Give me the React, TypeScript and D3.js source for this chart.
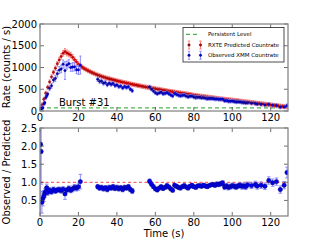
import React from 'react'
import * as d3 from 'd3'

// RXTE predicted countrate, one value per second from t = 0 s
const predRate = [
  30, 140, 270, 410, 545, 670, 785, 890, 985, 1085, 1175, 1255, 1330, 1365, 1335, 1310, 1285, 1235, 1180, 1130,
  1075, 1035, 1005, 978, 952, 928, 906, 884, 866, 847, 828, 812, 797, 781, 768, 754, 742, 729, 718, 706,
  695, 684, 674, 663, 653, 643, 634, 624, 614, 605, 596, 586, 578, 569, 560, 552, 544, 536, 528, 520,
  512, 504, 496, 488, 480, 472, 464, 457, 450, 443, 436, 429, 422, 415, 408, 401, 394, 387, 380, 372,
  364, 358, 352, 346, 340, 334, 328, 322, 316, 310, 304, 298, 292, 286, 281, 276, 271, 266, 261, 255,
  250, 245, 239, 234, 228, 223, 217, 212, 206, 201, 196, 190, 185, 179, 174, 168, 163, 157, 152, 146,
  141, 135, 130, 124, 119, 113, 108, 102, 97,
]

// observed / predicted ratio (XMM / RXTE)
const ratioTime = [
  0.3, 0.6, 1, 1.5, 2, 2.5, 3, 3.5, 4, 5, 6, 7, 8, 9, 10, 11, 12, 13, 14, 15, 16, 17, 18, 19, 20, 21,
  30, 31, 32, 33, 34, 35, 36, 37, 38, 39, 40, 41, 42, 43, 44, 45, 46, 47, 48,
  57, 58, 59, 60, 61, 62, 63, 64, 65, 66, 67, 68, 69, 70, 71, 72, 73, 74, 75, 76, 77, 78, 79, 80,
  81, 82, 83, 84, 85, 86, 87, 88, 89, 90, 91, 92, 93, 94, 95, 96, 97, 98, 99, 100,
  101, 102, 103, 104, 105, 106, 107, 108, 110, 112, 113, 115, 117, 119, 121, 123, 125, 127, 128.5,
]
const ratioValue = [
  2.05, 1.85, 0.45, 0.55, 0.62, 0.7, 0.75, 0.85, 0.72, 0.78, 0.74, 0.8, 0.76, 0.79, 0.8, 0.77, 0.81, 0.68, 0.79, 0.83, 0.78, 0.82, 0.86, 0.84, 0.88, 1.02,
  0.88, 0.84, 0.86, 0.82, 0.85, 0.8, 0.86, 0.84, 0.88, 0.83, 0.86, 0.82, 0.85, 0.8, 0.86, 0.84, 0.88, 0.8, 0.76,
  1.03, 0.95, 0.88, 0.82, 0.79, 0.84, 0.88, 0.83, 0.86, 0.91, 0.87, 0.82, 0.78, 0.92, 0.89, 0.86, 0.84, 0.88, 0.91, 0.87, 0.84, 0.89, 0.92, 0.88,
  0.86, 0.9, 0.91, 0.89, 0.92, 0.9, 0.88, 0.91, 0.93, 0.94, 0.92, 0.95, 0.94, 0.96, 0.98, 0.87, 0.9, 0.86, 0.88, 0.91,
  0.89, 0.87, 0.9, 0.92, 0.89, 0.9, 0.88, 0.93, 0.91, 0.94, 0.9, 0.92, 0.89, 1.05, 0.99, 1.02, 0.8, 0.92, 1.27,
]
const ratioErr = [
  2.6, 0.9, 0.3, 0.2, 0.15, 0.12, 0.1, 0.1, 0.08, 0.08, 0.07, 0.07, 0.07, 0.07, 0.07, 0.07, 0.07, 0.15, 0.07, 0.07, 0.07, 0.08, 0.08, 0.08, 0.1, 0.2,
  0.06, 0.06, 0.06, 0.06, 0.06, 0.06, 0.06, 0.06, 0.06, 0.06, 0.06, 0.06, 0.06, 0.06, 0.06, 0.06, 0.06, 0.06, 0.07,
  0.06, 0.06, 0.05, 0.05, 0.05, 0.05, 0.05, 0.05, 0.05, 0.05, 0.05, 0.05, 0.05, 0.05, 0.05, 0.05, 0.05, 0.05, 0.05, 0.05, 0.05, 0.05, 0.05, 0.05,
  0.05, 0.05, 0.05, 0.05, 0.05, 0.05, 0.05, 0.05, 0.05, 0.05, 0.06, 0.06, 0.06, 0.06, 0.07, 0.07, 0.07, 0.07, 0.07, 0.07,
  0.07, 0.07, 0.07, 0.07, 0.08, 0.08, 0.08, 0.08, 0.08, 0.09, 0.09, 0.09, 0.09, 0.1, 0.1, 0.1, 0.1, 0.1, 0.15,
]

const persistentLevel = 70
const xTicks = [0, 20, 40, 60, 80, 100, 120]
const rateTicks = [0, 500, 1000, 1500, 2000]
const ratioTicks = [0.5, 1.0, 1.5, 2.0, 2.5]

const font = 'DejaVu Sans, sans-serif'
const left = 40, right = 288
const top1 = 24, bot1 = 111, top2 = 128, bot2 = 216

const x = d3.scaleLinear().domain([0, 129]).range([left, right])
const yRate = d3.scaleLinear().domain([0, 2000]).range([bot1, top1])
const yRatio = d3.scaleLinear().domain([0.07, 2.5]).range([bot2, top2])

const pred = predRate.map((v, i) => ({ t: i, v, e: Math.max(45, v * 0.05) }))
const ratio = ratioTime.map((t, i) => ({ t, v: ratioValue[i], e: ratioErr[i] }))
const obs = ratio.map(d => {
  const p = predRate[Math.min(predRate.length - 1, Math.floor(d.t))]
  return { t: d.t, v: d.v * p, e: Math.max(40, d.e * p) }
})

type Pt = { t: number, v: number, e: number }

const ErrorSeries = ({ data, y, bar, fill, edge, r, cap }: { data: Pt[], y: d3.ScaleLinear<number, number>, bar: string, fill: string, edge: string, r: number, cap: number }) => (
  <g>
    {data.map((d, i) => {
      const cx = x(d.t), y1 = y(d.v - d.e), y2 = y(d.v + d.e)
      return (
        <g key={'e' + i} stroke={bar} strokeWidth={0.9}>
          <line x1={cx} x2={cx} y1={y1} y2={y2} />
          {cap > 0 && <line x1={cx - cap} x2={cx + cap} y1={y1} y2={y1} />}
          {cap > 0 && <line x1={cx - cap} x2={cx + cap} y1={y2} y2={y2} />}
        </g>
      )
    })}
    {data.map((d, i) => (
      <circle key={'m' + i} cx={x(d.t)} cy={y(d.v)} r={r} fill={fill} stroke={edge} strokeWidth={0.4} />
    ))}
  </g>
)

const Frame = ({ y, ticks, y0, y1, fmt }: { y: d3.ScaleLinear<number, number>, ticks: number[], y0: number, y1: number, fmt: (v: number) => string }) => (
  <g>
    {xTicks.map(t => (
      <g key={'x' + t}>
        <line x1={x(t)} x2={x(t)} y1={y1} y2={y1 - 4} stroke="#333" strokeWidth={0.7} />
        <line x1={x(t)} x2={x(t)} y1={y0} y2={y0 + 4} stroke="#333" strokeWidth={0.7} />
        <text x={x(t)} y={y1 + 10} fontSize={10} fontFamily={font} textAnchor="middle">{t}</text>
      </g>
    ))}
    {ticks.map(t => (
      <g key={'y' + t}>
        <line x1={left} x2={left + 4} y1={y(t)} y2={y(t)} stroke="#333" strokeWidth={0.7} />
        <line x1={right} x2={right - 4} y1={y(t)} y2={y(t)} stroke="#333" strokeWidth={0.7} />
        <text x={left - 3} y={y(t) + 3.6} fontSize={10} fontFamily={font} textAnchor="end">{fmt(t)}</text>
      </g>
    ))}
    <rect x={left} y={y0} width={right - left} height={y1 - y0} fill="none" stroke="#888" strokeWidth={1.3} />
  </g>
)

const App = () => {
  return (
    <svg width={320} height={240} style={{ position: 'absolute', left: 0, top: 0, background: '#fff' }}>
      <defs>
        <clipPath id="c1"><rect x={left} y={top1} width={right - left} height={bot1 - top1} /></clipPath>
        <clipPath id="c2"><rect x={left} y={top2} width={right - left} height={bot2 - top2} /></clipPath>
      </defs>

      {/* top panel */}
      <g clipPath="url(#c1)">
        <line x1={left} x2={right} y1={yRate(persistentLevel)} y2={yRate(persistentLevel)} stroke="#4db34d" strokeWidth={1.2} strokeDasharray="4,3" />
        <ErrorSeries data={pred} y={yRate} bar="#ff6f6f" fill="#e00000" edge="#700" r={1.2} cap={1} />
        <ErrorSeries data={obs} y={yRate} bar="#7f7fff" fill="#0000e0" edge="#000060" r={1.2} cap={1} />
      </g>
      <text x={59} y={106} fontSize={10} fontFamily={font}>Burst #31</text>
      <Frame y={yRate} ticks={rateTicks} y0={top1} y1={bot1} fmt={v => String(v)} />
      <text transform="translate(10,67) rotate(-90)" fontSize={10} fontFamily={font} textAnchor="middle">Rate (counts / s)</text>

      {/* legend */}
      <g fontFamily={font} fontSize={5.5}>
        <rect x={183} y={27.5} width={101} height={34.5} fill="#fff" stroke="#222" strokeWidth={0.8} />
        <line x1={186} x2={199} y1={34.3} y2={34.3} stroke="#4db34d" strokeWidth={1.2} strokeDasharray="4,3" />
        <text x={208} y={36.2}>Persistent Level</text>
        {[{ y: 45, bar: '#ff6f6f', fill: '#e00000', label: 'RXTE Predicted Countrate' },
          { y: 55.3, bar: '#7f7fff', fill: '#0000e0', label: 'Observed XMM Countrate' }].map(d => (
          <g key={d.label}>
            {[189, 200.5].map(cx => (
              <g key={cx} stroke={d.bar} strokeWidth={0.8}>
                <line x1={cx} x2={cx} y1={d.y - 4} y2={d.y + 4} />
                <line x1={cx - 1.2} x2={cx + 1.2} y1={d.y - 4} y2={d.y - 4} />
                <line x1={cx - 1.2} x2={cx + 1.2} y1={d.y + 4} y2={d.y + 4} />
                <circle cx={cx} cy={d.y} r={1.2} fill={d.fill} stroke="#000" strokeWidth={0.4} />
              </g>
            ))}
            <text x={208} y={d.y + 2}>{d.label}</text>
          </g>
        ))}
      </g>

      {/* bottom panel */}
      <g clipPath="url(#c2)">
        <line x1={left} x2={right} y1={yRatio(1)} y2={yRatio(1)} stroke="#ff4040" strokeWidth={1} strokeDasharray="3,2.5" />
        <ErrorSeries data={ratio} y={yRatio} bar="#8080ff" fill="#0000ee" edge="#000050" r={2.2} cap={1.8} />
      </g>
      <Frame y={yRatio} ticks={ratioTicks} y0={top2} y1={bot2} fmt={v => v.toFixed(1)} />
      <text transform="translate(10,172) rotate(-90)" fontSize={10} fontFamily={font} textAnchor="middle">Observed / Predicted</text>
      <text x={164} y={237} fontSize={10} fontFamily={font} textAnchor="middle">Time (s)</text>
    </svg>
  )
}

export default App
